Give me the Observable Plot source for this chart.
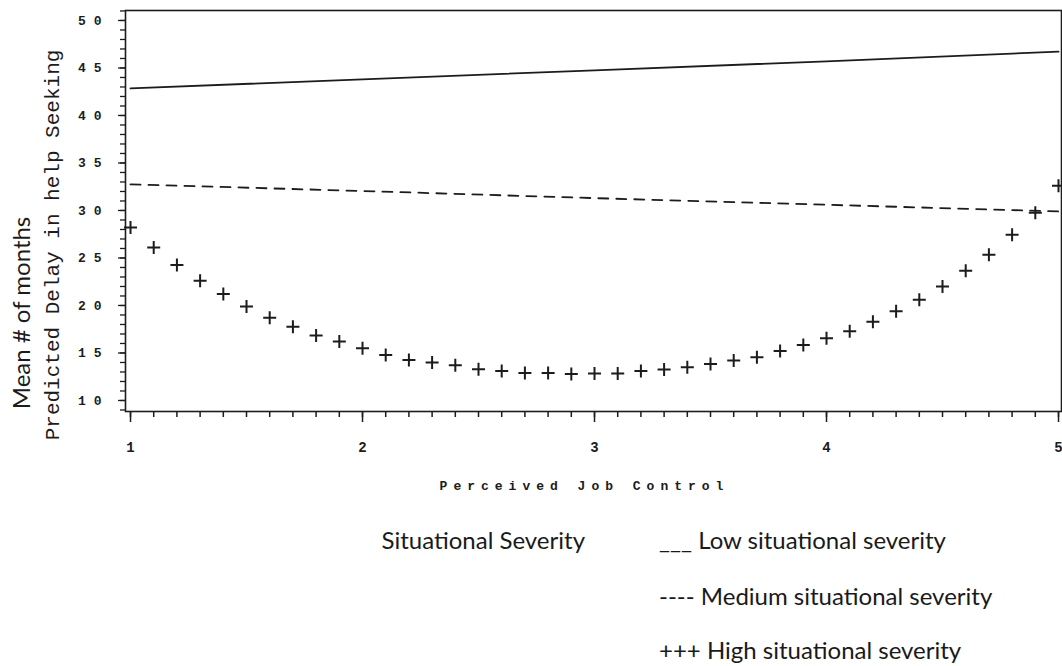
<!DOCTYPE html>
<html>
<head>
<meta charset="utf-8">
<script src="https://cdn.jsdelivr.net/npm/d3@7"></script>
<script src="https://cdn.jsdelivr.net/npm/@observablehq/plot@0.6"></script>
<style>
  html, body { margin: 0; padding: 0; background: #fff; }
  #wrap { position: relative; width: 1062px; height: 666px; overflow: hidden; background: #fff; }
  #chart { position: absolute; left: 0; top: 0; }
  .leg { position: absolute; font-family: Lato, "Open Sans", sans-serif; font-size: 24px; color: #1a1a1a; white-space: pre; line-height: 24px; }
</style>
</head>
<body>
<div id="wrap">
  <div id="chart"></div>
</div>
<script>
// ---- data ----
const jobControl = [1.0, 1.1, 1.2, 1.3, 1.4, 1.5, 1.6, 1.7, 1.8, 1.9,
                    2.0, 2.1, 2.2, 2.3, 2.4, 2.5, 2.6, 2.7, 2.8, 2.9,
                    3.0, 3.1, 3.2, 3.3, 3.4, 3.5, 3.6, 3.7, 3.8, 3.9,
                    4.0, 4.1, 4.2, 4.3, 4.4, 4.5, 4.6, 4.7, 4.8, 4.9, 5.0];
const highSeverity = [28.2, 26.1, 24.25, 22.6, 21.2, 19.9, 18.7, 17.75, 16.85, 16.2,
                      15.5, 14.8, 14.25, 14.0, 13.7, 13.3, 13.1, 12.9, 12.9, 12.8,
                      12.85, 12.85, 13.1, 13.25, 13.5, 13.85, 14.2, 14.55, 15.2, 15.85,
                      16.55, 17.3, 18.3, 19.4, 20.6, 22.0, 23.65, 25.35, 27.45, 29.75, 32.6];
const lineX = [1, 2, 3, 4, 5];
const lowSeverity = [42.85, 43.8, 44.75, 45.7, 46.72];
const mediumSeverity = [32.75, 32.05, 31.3, 30.6, 29.9];

const yTickValues = [10, 15, 20, 25, 30, 35, 40, 45, 50];
const yTickLabels = ["1 0", "1 5", "2 0", "2 5", "3 0", "3 5", "4 0", "4 5", "5 0"];
const xTickValues = [1, 2, 3, 4, 5];
const xTickLabels = ["1", "2", "3", "4", "5"];

const xLabel = "Perceived Job Control";
const yLabelInner = "Predicted Delay in help Seeking";
const yLabelOuter = "Mean # of months";
const legendTitle = "Situational Severity";
const legendItems = ["___ Low situational severity", "---- Medium situational severity", "+++ High situational severity"];

// ---- tables ----
const high = jobControl.map((x, i) => ({x, y: highSeverity[i]}));
const low = lineX.map((x, i) => ({x, y: lowSeverity[i]}));
const medium = lineX.map((x, i) => ({x, y: mediumSeverity[i]}));

const cross = {
  draw(context, size) {
    const r = Math.sqrt(size / Math.PI);
    context.moveTo(-r, 0); context.lineTo(r, 0);
    context.moveTo(0, -r); context.lineTo(0, r);
  }
};

const ink = "#1c1c1c";
const tickFont = "'Liberation Mono', 'DejaVu Sans Mono', monospace";

const plot = Plot.plot({
  width: 1062,
  height: 500,
  marginLeft: 125,
  marginRight: 1,
  marginTop: 10,
  marginBottom: 89,
  style: {background: "#fff", color: ink, fontFamily: tickFont},
  x: {domain: [0.9784, 5.0129]},
  y: {domain: [8.84, 51.05]},
  marks: [
    // minor y ticks
    Plot.axisY({ticks: d3.range(9, 52), tickSize: 5, tickFormat: () => "", label: null, stroke: ink, strokeWidth: 1.3}),
    // major y ticks
    Plot.axisY({ticks: yTickValues, tickSize: 7, tickPadding: 17, label: null,
      tickFormat: d => yTickLabels[yTickValues.indexOf(d)],
      fontSize: 13, fontWeight: "bold", fontFamily: tickFont, stroke: ink, strokeWidth: 1.3}),
    // minor x ticks
    Plot.axisX({ticks: d3.range(10, 51).map(d => d / 10), tickSize: 6, tickFormat: () => "", label: null, stroke: ink, strokeWidth: 1.5}),
    // major x ticks
    Plot.axisX({ticks: xTickValues, tickSize: 11, tickPadding: 20, label: null,
      tickFormat: d => xTickLabels[xTickValues.indexOf(d)],
      fontSize: 14, fontWeight: "bold", fontFamily: tickFont, stroke: ink, strokeWidth: 1.5}),
    Plot.frame({stroke: ink, strokeWidth: 1.6}),
    Plot.line(low, {x: "x", y: "y", stroke: ink, strokeWidth: 1.8}),
    Plot.line(medium, {x: "x", y: "y", stroke: ink, strokeWidth: 1.8, strokeDasharray: "10,8"}),
    Plot.dot(high, {x: "x", y: "y", symbol: cross, r: 6.5, stroke: ink, strokeWidth: 2, fill: "none"}),
    Plot.text([xLabel], {frameAnchor: "bottom", dy: 78, dx: -9, text: d => d,
      fontFamily: tickFont, fontSize: 13, fontWeight: "bold", fill: ink}),
    Plot.text([yLabelInner], {frameAnchor: "left", textAnchor: "middle", dx: -73, dy: 34, rotate: -90, text: d => d,
      fontFamily: "'Liberation Mono', monospace", fontSize: 21, fill: ink}),
    Plot.text([yLabelOuter], {frameAnchor: "left", textAnchor: "middle", dx: -103, dy: 102, rotate: -90, text: d => d,
      fontFamily: "Lato, 'Open Sans', sans-serif", fontSize: 24, fill: ink})
  ]
});
document.getElementById("chart").appendChild(plot);

// letter spacing for the monospaced x label
d3.select(plot).selectAll("text").filter(function() { return this.textContent === xLabel; })
  .attr("letter-spacing", "6px");

// legend (below the plot)
const wrap = document.getElementById("wrap");
function addText(t, pos, top) {
  const d = document.createElement("div");
  d.className = "leg"; d.textContent = t;
  if (pos.left != null) d.style.left = pos.left + "px";
  if (pos.right != null) d.style.right = pos.right + "px";
  d.style.top = top + "px";
  wrap.appendChild(d);
}
addText(legendTitle, {right: 477}, 528);
addText(legendItems[0], {left: 659}, 528);
addText(legendItems[1], {left: 659}, 584);
addText(legendItems[2], {left: 659}, 638);
</script>
</body>
</html>
